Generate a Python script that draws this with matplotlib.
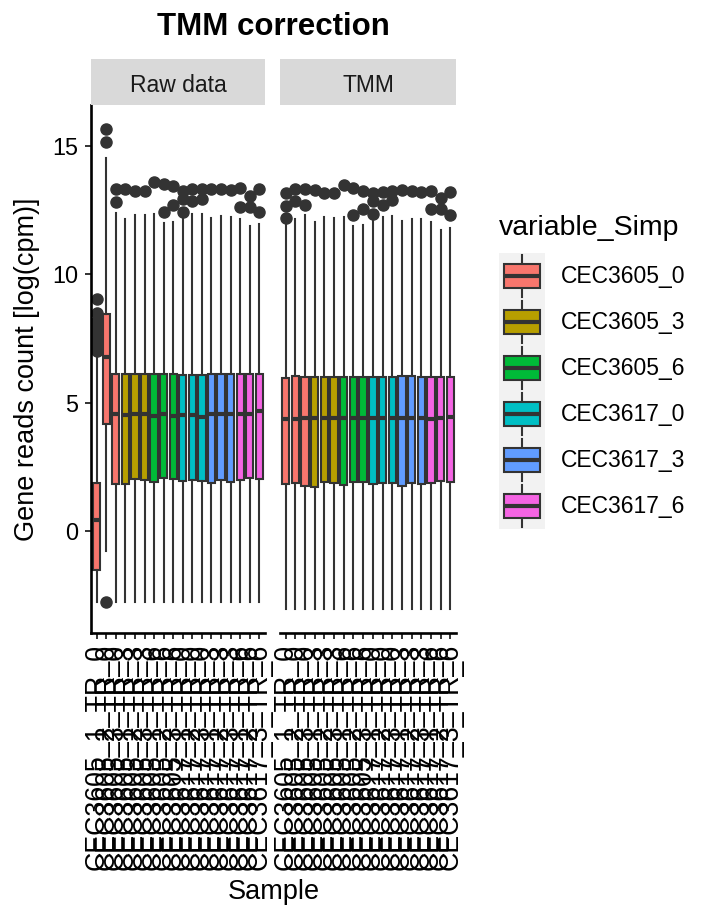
import matplotlib
matplotlib.use("Agg")
import matplotlib.pyplot as plt
from matplotlib.patches import Rectangle
from matplotlib.lines import Line2D
from matplotlib.legend_handler import HandlerBase

plt.rcParams['font.family'] = ['Liberation Sans', 'DejaVu Sans']

# ---------------- data ----------------
groups = ['CEC3605_0', 'CEC3605_3', 'CEC3605_6', 'CEC3617_0', 'CEC3617_3', 'CEC3617_6']
palette = ['#F8766D', '#B79F00', '#00BA38', '#00BFC4', '#619CFF', '#F564E3']
samples = ['CEC3605_1_TR_0', 'CEC3605_2_TR_0', 'CEC3605_3_TR_0',
           'CEC3605_1_TR_3', 'CEC3605_2_TR_3', 'CEC3605_3_TR_3',
           'CEC3605_1_TR_6', 'CEC3605_2_TR_6', 'CEC3605_3_TR_6',
           'CEC3617_1_TR_0', 'CEC3617_2_TR_0', 'CEC3617_3_TR_0',
           'CEC3617_1_TR_3', 'CEC3617_2_TR_3', 'CEC3617_3_TR_3',
           'CEC3617_1_TR_6', 'CEC3617_2_TR_6', 'CEC3617_3_TR_6']
sample_group = [0, 0, 0, 1, 1, 1, 2, 2, 2, 3, 3, 3, 4, 4, 4, 5, 5, 5]
facets = ['Raw data', 'TMM']

raw_q3 = [1.88, 8.47, 6.12, 6.12, 6.12, 6.12, 6.12, 6.12, 6.12,
          6.08, 6.08, 6.08, 6.12, 6.12, 6.12, 6.12, 6.12, 6.12]
raw_med = [0.42, 6.78, 4.58, 4.52, 4.55, 4.55, 4.50, 4.55, 4.50,
           4.52, 4.52, 4.44, 4.55, 4.55, 4.55, 4.55, 4.55, 4.67]
raw_q1 = [-1.53, 4.18, 1.84, 1.82, 2.02, 1.99, 1.92, 2.06, 2.02,
          1.95, 1.99, 1.95, 1.88, 1.99, 1.92, 1.98, 2.06, 2.02]
raw_lo = [-2.77, -0.76, -2.77, -2.77, -2.77, -2.77, -2.77, -2.77, -2.77,
          -2.77, -2.77, -2.77, -2.77, -2.77, -2.77, -2.77, -2.77, -2.77]
raw_hi = [6.95, 14.55, 12.40, 12.14, 12.33, 12.31, 12.34, 12.01, 12.04,
          12.34, 12.34, 12.34, 12.18, 12.27, 12.24, 12.14, 11.87, 11.95]
raw_out = [[7.02, 7.1, 7.18, 7.25, 7.33, 7.4, 7.48, 7.55, 7.63, 7.7, 7.78, 7.85,
            7.93, 8.0, 8.1, 8.2, 8.5, 9.05],
           [15.16, 15.66, -2.77],
           [12.81, 13.34], [13.34], [13.25], [13.25], [13.58], [12.44, 13.52],
           [12.71, 13.45], [12.44, 12.94, 13.25], [12.85, 13.31], [12.94, 13.34],
           [13.34], [13.34], [13.29], [12.64, 13.38], [12.64, 13.07], [12.44, 13.34]]

tmm_q3 = [5.95, 6.04, 6.01, 6.01, 6.01, 6.01, 6.01, 6.01, 6.01,
          6.01, 6.01, 6.01, 6.04, 6.04, 6.01, 6.01, 6.01, 6.01]
tmm_med = [4.36, 4.38, 4.40, 4.40, 4.40, 4.42, 4.40, 4.40, 4.40,
           4.42, 4.42, 4.40, 4.40, 4.42, 4.40, 4.38, 4.42, 4.45]
tmm_q1 = [1.82, 1.86, 1.77, 1.72, 1.92, 1.86, 1.79, 1.92, 1.92,
          1.82, 1.86, 1.86, 1.77, 1.86, 1.82, 1.88, 1.95, 1.92]
tmm_lo = [-3.03, -3.03, -3.03, -3.03, -3.03, -3.03, -3.03, -3.03, -3.03,
          -3.03, -3.03, -3.03, -3.03, -3.03, -3.03, -3.03, -3.03, -3.03]
tmm_hi = [11.97, 12.14, 12.31, 12.04, 12.22, 12.18, 12.24, 11.87, 11.93,
          12.24, 12.22, 12.27, 12.08, 12.16, 12.14, 12.04, 11.73, 11.81]
tmm_out = [[12.2, 12.67, 13.18], [12.85, 13.34], [12.71, 13.31], [13.29], [13.15],
           [13.18], [13.48], [12.31, 13.38], [12.54, 13.25], [12.35, 12.85, 13.18],
           [12.71, 13.21], [12.89, 13.25], [13.29], [13.25], [13.21], [12.54, 13.25],
           [12.54, 12.98], [12.31, 13.21]]

y_ticks = [0, 5, 10, 15]

# ---------------- figure ----------------
W, H = 720, 921
fig = plt.figure(figsize=(W / 100, H / 100), dpi=100)
fig.patch.set_facecolor('white')


def px_axes(x0, y0, x1, y1):
    return fig.add_axes([x0 / W, 1 - y1 / H, (x1 - x0) / W, (y1 - y0) / H])


EDGE = '#333333'
all_vals = raw_lo + tmm_lo + [v for o in raw_out + tmm_out for v in o]
ymin, ymax = min(all_vals), max(all_vals)
pad = 0.05 * (ymax - ymin)
ylim = (ymin - pad, ymax + pad)

panels = [
    (facets[0], (91, 265), raw_q1, raw_med, raw_q3, raw_lo, raw_hi, raw_out),
    (facets[1], (280, 456), tmm_q1, tmm_med, tmm_q3, tmm_lo, tmm_hi, tmm_out),
]

positions = list(range(1, len(samples) + 1))
for k, (name, (x0, x1), q1, med, q3, lo, hi, out) in enumerate(panels):
    ax = px_axes(x0, 105, x1, 633)
    stats = []
    for i in range(len(samples)):
        stats.append(dict(med=med[i], q1=q1[i], q3=q3[i], whislo=lo[i],
                          whishi=hi[i], fliers=out[i]))
    bp = ax.bxp(stats, positions=positions, widths=0.76, patch_artist=True,
                showcaps=False,
                boxprops=dict(edgecolor=EDGE, linewidth=1.5),
                whiskerprops=dict(color=EDGE, linewidth=1.5),
                medianprops=dict(color=EDGE, linewidth=3.0, solid_capstyle='butt'),
                flierprops=dict(marker='o', markerfacecolor=EDGE,
                                markeredgecolor=EDGE, markersize=8,
                                linestyle='none'))
    for patch, g in zip(bp['boxes'], sample_group):
        patch.set_facecolor(palette[g])
    ax.set_xlim(0.4, len(samples) + 0.6)
    ax.set_ylim(*ylim)
    ax.set_facecolor('white')
    for s in ['top', 'right']:
        ax.spines[s].set_visible(False)
    ax.spines['bottom'].set_linewidth(1.9)
    ax.spines['left'].set_linewidth(1.9)
    ax.set_xticks(positions)
    ax.set_xticklabels(samples, rotation=90, ha='center', va='top',
                       fontsize=19.3, color='black')
    ax.tick_params(axis='x', direction='out', length=4, width=1.4,
                   color=EDGE, pad=4)
    if k == 0:
        ax.set_yticks(y_ticks)
        ax.set_yticklabels([str(t) for t in y_ticks], fontsize=16.8, color='black')
        ax.tick_params(axis='y', direction='out', length=4, width=1.4,
                       color=EDGE, pad=5)
    else:
        ax.spines['left'].set_visible(False)
        ax.set_yticks([])
    # strip
    sax = px_axes(x0, 59, x1, 105)
    sax.set_facecolor('#D9D9D9')
    for s in sax.spines.values():
        s.set_visible(False)
    sax.set_xticks([])
    sax.set_yticks([])
    sax.text(0.5, 0.48, name, ha='center', va='center_baseline', fontsize=16.5,
             color='#1A1A1A', transform=sax.transAxes)

# titles
fig.text(273.5 / W, 1 - 27 / H, 'TMM correction', ha='center', va='center',
         fontsize=22.5, fontweight='bold', color='black')
fig.text(27 / W, 1 - 369 / H, 'Gene reads count [log(cpm)]', rotation=90,
         ha='center', va='center', fontsize=19.5, color='black')
fig.text(273.5 / W, 1 - 892 / H, 'Sample', ha='center', va='center',
         fontsize=19.5, color='black')


# ---------------- legend ----------------
class BoxKeyHandler(HandlerBase):
    def create_artists(self, legend, orig_handle, xdescent, ydescent, width,
                       height, fontsize, trans):
        x0, y0 = -xdescent, -ydescent
        bg = Rectangle((x0, y0), width, height, facecolor='#F2F2F2',
                       edgecolor='none', transform=trans)
        bw, bh = width * 0.78, height * 0.52
        bx, by = x0 + (width - bw) / 2, y0 + (height - bh) / 2
        cx = x0 + width / 2
        w1 = Line2D([cx, cx], [y0 + height * 0.05, by], color=EDGE, lw=1.5,
                    transform=trans)
        w2 = Line2D([cx, cx], [by + bh, y0 + height * 0.95], color=EDGE, lw=1.5,
                    transform=trans)
        box = Rectangle((bx, by), bw, bh, facecolor=orig_handle.get_facecolor(),
                        edgecolor=EDGE, lw=1.5, transform=trans)
        med = Line2D([bx, bx + bw], [y0 + height / 2] * 2, color=EDGE, lw=3,
                     solid_capstyle='butt', transform=trans)
        return [bg, w1, w2, box, med]


handles = [Rectangle((0, 0), 1, 1, facecolor=c) for c in palette]
fs = 16.5
fs_px = fs * 100 / 72
key_px = 46.0
fig.text(499 / W, 1 - 228 / H, 'variable_Simp', ha='left', va='center',
         fontsize=20.5, color='black')
fig.legend(handles, groups, handler_map={Rectangle: BoxKeyHandler()},
           loc='upper left', bbox_to_anchor=(499 / W, 1 - 253 / H),
           frameon=False, fontsize=fs, borderpad=0, borderaxespad=0,
           labelspacing=0, handlelength=key_px / fs_px,
           handleheight=(key_px / fs_px - 0.245) / 0.65,
           handletextpad=16 / fs_px)

fig.savefig('out.png', dpi=100, facecolor='white')
